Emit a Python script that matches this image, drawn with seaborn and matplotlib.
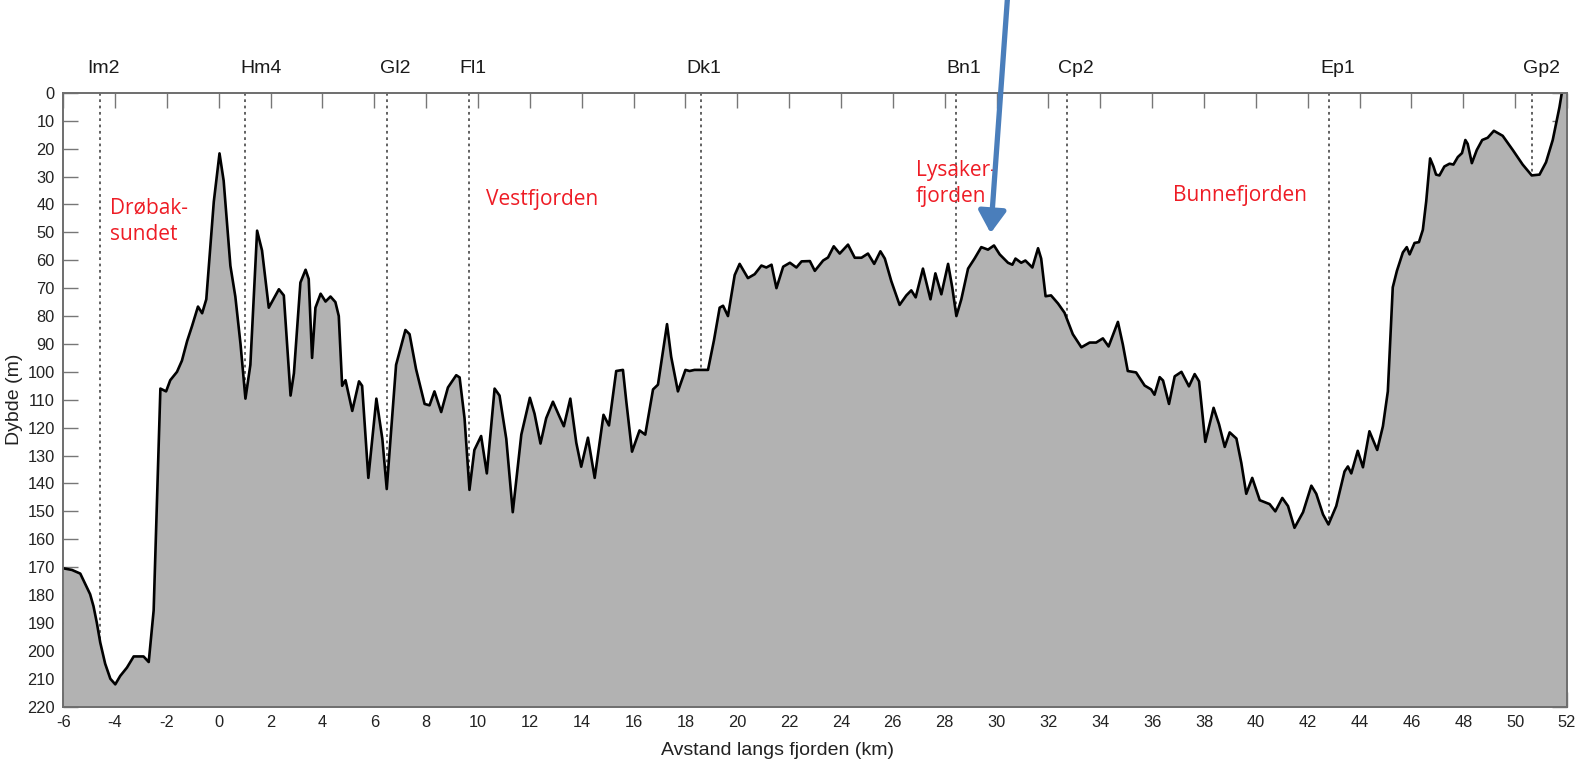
import numpy as np
import pandas as pd
import matplotlib
matplotlib.use("Agg")
import matplotlib.pyplot as plt
import seaborn as sns

# depth profile along the fjord
dist = [-6.0, -5.66, -5.34, -5.15, -4.96, -4.83, -4.7, -4.57, -4.38, -4.18, -3.99, -3.8,
        -3.54, -3.28, -3.09, -2.9, -2.7, -2.51, -2.25, -2.03,
        -1.87, -1.61, -1.42, -1.22, -1.03, -0.8, -0.64, -0.48, -0.19, 0.03, 0.19, 0.45,
        0.64, 0.84, 1.03, 1.22, 1.48, 1.67, 1.93, 2.32, 2.51, 2.77, 2.9, 3.15, 3.35, 3.47,
        3.6, 3.73, 3.93, 4.12, 4.31, 4.5, 4.63, 4.76, 4.89, 5.15, 5.41, 5.53, 5.77, 6.08,
        6.31, 6.48, 6.84, 7.2, 7.36, 7.61, 7.94, 8.13, 8.32, 8.58, 8.84, 9.16, 9.29, 9.48,
        9.67, 9.86, 10.12, 10.34, 10.64, 10.83, 11.09, 11.34, 11.67, 12.0, 12.18, 12.41,
        12.63, 12.89, 13.14, 13.31, 13.56, 13.79, 13.98, 14.24, 14.5, 14.84, 15.05, 15.33,
        15.59, 15.72, 15.94, 16.23, 16.45, 16.75, 16.94, 17.29, 17.45, 17.71, 18.0, 18.16,
        18.35, 18.87, 19.1, 19.32, 19.45, 19.64, 19.9, 20.09, 20.41, 20.67, 20.93, 21.12,
        21.32, 21.51, 21.77, 22.03, 22.28, 22.48, 22.8, 22.99, 23.31, 23.5, 23.72, 23.95,
        24.27, 24.53, 24.79, 25.04, 25.28, 25.52, 25.69, 25.94, 26.26, 26.52, 26.71, 26.88,
        27.16, 27.45, 27.64, 27.87, 28.13, 28.29, 28.45, 28.64, 28.9, 29.15, 29.41, 29.67,
        29.9, 30.12, 30.44, 30.61, 30.73, 30.95, 31.11, 31.38, 31.6, 31.72, 31.89, 32.1,
        32.37, 32.62, 32.94, 33.27, 33.59, 33.84, 34.1, 34.32, 34.68, 34.87, 35.06, 35.38,
        35.71, 35.96, 36.09, 36.29, 36.42, 36.65, 36.87, 37.13, 37.42, 37.64, 37.81, 38.05,
        38.37, 38.58, 38.8, 38.99, 39.25, 39.44, 39.63, 39.86, 40.15, 40.53, 40.75, 41.02,
        41.24, 41.49, 41.82, 42.14, 42.33, 42.59, 42.8, 43.1, 43.42, 43.55, 43.68, 43.93,
        44.13, 44.38, 44.68, 44.9, 45.09, 45.28, 45.44, 45.67, 45.82, 45.93, 46.12, 46.29,
        46.44, 46.57, 46.72, 46.85, 46.95, 47.08, 47.27, 47.47, 47.62, 47.79, 47.95, 48.08,
        48.17, 48.33, 48.52, 48.73, 48.94, 49.18, 49.52, 49.91, 50.29, 50.64, 50.94, 51.19,
        51.45, 51.71, 51.8, 52.0]
depth = [170.4, 171, 172.3, 176, 179.7, 184, 190, 197, 204.6, 210, 212, 209,
         206, 202, 202, 202, 204, 185.5, 106, 107,
         103, 100, 96, 89, 83.6, 76.6, 79, 74, 39, 21.7, 31.5, 62,
         73, 90, 109.6, 97.5, 49.4, 56.5, 77, 70.4, 72.6, 108.5, 100.5, 68, 63.4, 66.7,
         95, 77, 72, 74.8, 73, 75, 80, 105, 103, 114, 103.4, 105, 138, 109.6,
         124, 142, 97.5, 85, 86.5, 99, 111.5, 112, 107, 114.4, 105.6, 101.2, 102, 116.6,
         142.3, 128, 123, 136.4, 106, 108.5, 124, 150.3, 122.5, 109.3, 115, 125.7,
         116.6, 110.7, 116, 119.5, 109.6, 125.4, 134, 123.6, 138, 115.4, 119.2, 99.7,
         99.3, 110.7, 128.6, 121, 122.5, 106.3, 104.6, 82.9, 94.6, 107, 99.3, 99.7,
         99.3, 99.3, 88.7, 77, 76.3, 80, 65.3, 61.3, 66.4, 65, 61.9, 62.6,
         61.6, 70, 62.3, 60.9, 62.6, 60.4, 60.3, 63.8, 60.1, 59, 55, 57.6,
         54.4, 59.1, 59.1, 57.6, 61.3, 56.8, 59.4, 67.5, 76, 72.6, 70.8, 73.3,
         63, 74, 64.7, 72.2, 61.3, 69.7, 80, 74, 63, 59.4, 55.3, 56.2,
         54.7, 57.9, 60.9, 61.6, 59.4, 60.9, 60.1, 62.6, 55.7, 59.4, 72.9, 72.6,
         75.5, 78.8, 86.5, 91.2, 89.5, 89.5, 88, 90.9, 82.1, 90.2, 99.7, 100.2,
         104.9, 106.3, 108.2, 101.9, 103.1, 111.5, 101.6, 100, 105.2, 100.8, 103.4, 125.1,
         112.9, 118.8, 126.9, 121.7, 123.9, 132.7, 143.7, 138, 146, 147.4, 150, 145.2,
         148.1, 155.9, 150.3, 140.8, 143.7, 151.1, 154.7, 148.1, 135.7, 133.9, 136.4, 128.3,
         134.2, 121.3, 128, 119.5, 107, 69.7, 63.8, 57.2, 55.3, 57.9, 53.8, 53.5,
         49.1, 38.9, 23.5, 26.4, 29.3, 29.6, 26.4, 25.4, 25.7, 23, 21.6, 16.9,
         18.3, 25.2, 20.5, 16.9, 16.1, 13.6, 15.4, 20.5, 25.7, 29.6, 29.3, 24.9,
         16.9, 5.1, 0.0, -4.0]

stations = ["Im2", "Hm4", "Gl2", "Fl1", "Dk1", "Bn1", "Cp2", "Ep1", "Gp2"]
station_km = [-4.59, 1.0, 6.5, 9.67, 18.61, 28.45, 32.7, 42.81, 50.64]
label_km = [-4.44, 1.62, 6.8, 9.82, 18.72, 28.75, 33.05, 43.15, 51.03]

regions = ["Drøbak-\nsundet", "Vestfjorden", "Lysaker-\nfjorden", "Bunnefjorden"]
region_km = [-4.2, 10.3, 26.9, 36.8]
region_depth = [46, 38.4, 32.5, 36.7]

df = pd.DataFrame({"dist": dist, "depth": depth})

sns.set_style("white")
plt.rcParams["font.family"] = ["Liberation Sans", "DejaVu Sans"]
plt.rcParams["axes.unicode_minus"] = False

fig = plt.figure(figsize=(15.79, 7.61), dpi=100)
ax = fig.add_axes([0.040, 0.0714, 0.9524, 0.8066])

# station lines sit behind the filled bottom
ax.vlines(station_km, 0, 220, colors="#555555", linestyles=(0, (1.5, 2)), lw=1.3, zorder=1)
ax.fill_between(df["dist"], df["depth"], 220, color="#b2b2b2", lw=0, zorder=2)
sns.lineplot(data=df, x="dist", y="depth", sort=False, color="black", lw=1.9, ax=ax, zorder=3)

ax.set_xlim(-6, 52)
ax.set_ylim(220, 0)
ax.set_xticks(np.arange(-6, 53, 2))
ax.set_yticks(np.arange(0, 221, 10))
ax.tick_params(direction="in", length=11, width=1, color="#777777", labelsize=11.8,
               labelcolor="#222222", top=True, right=True, bottom=True, left=True, pad=6)
for s in ax.spines.values():
    s.set_color("#6e6e6e")
    s.set_linewidth(1.4)
    s.set_zorder(5)

ax.set_xlabel("Avstand langs fjorden (km)", fontsize=14, color="#222222")
ax.xaxis.set_label_coords(0.475, -0.058)
ax.set_ylabel("Dybde (m)", fontsize=14, color="#222222", labelpad=3)

trans = ax.get_xaxis_transform()
for name, xk in zip(stations, label_km):
    ax.text(xk, 1.04, name, transform=trans, ha="center", va="center",
            fontsize=14, color="#1a1a1a")

for name, xk, yd in zip(regions, region_km, region_depth):
    ax.text(xk, yd, name, ha="left", va="center", fontsize=15, color="#ee1c25",
            family=["Open Sans", "DejaVu Sans"], linespacing=1.3, zorder=6)

ax.annotate("", xy=(29.77, 50.3), xytext=(30.42, -34), annotation_clip=False,
            arrowprops=dict(arrowstyle="-|>,head_length=0.6,head_width=0.38",
                            color="#4a7ebb", lw=3.8, mutation_scale=22,
                            shrinkA=0, shrinkB=0), zorder=7)

fig.savefig("out.png", dpi=100)
